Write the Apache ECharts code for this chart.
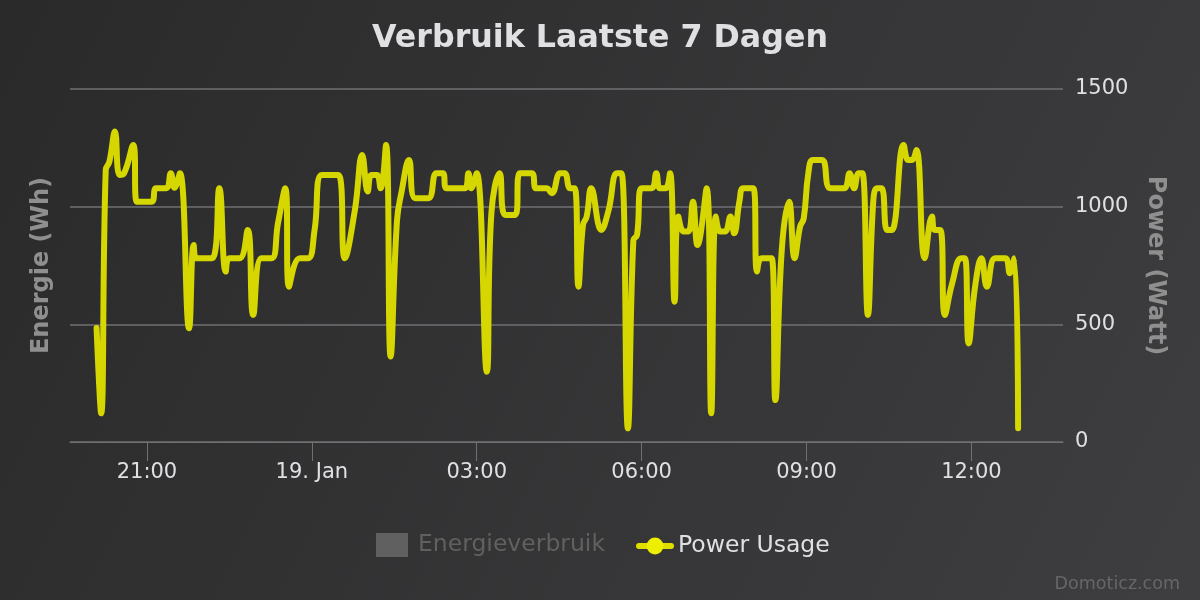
<!DOCTYPE html>
<html>
<head>
<meta charset="utf-8">
<script src="https://cdn.jsdelivr.net/npm/echarts@6/dist/echarts.min.js"></script>
<style>html,body{margin:0;padding:0;}#chart{width:1200px;height:600px;}</style>
</head>
<body>
<div id="chart"></div>
<script>
// Minutes relative to 19 Jan 00:00 (negative = 18 Jan evening)
const minutesFromMidnight = [
  -235,-230,-225,-221,-215,-210,-205,-195,-191,-175,-170,-159,-154,-150,-144,-134,-129,-126,-109,-101,
  -94,-90,-79,-70,-64,-55,-44,-37,-29,-25,-13,-4,3,11,29,36,47,55,61,65,
  71,75,81,86,93,98,106,113,127,136,143,147,167,171,174,180,191,196,205,211,
  222,227,240,245,256,262,271,276,282,287,291,296,300,305,316,324,333,338,345,351,
  355,360,371,376,380,386,391,396,400,406,411,416,421,431,436,441,446,451,457,461,
  467,471,482,486,491,502,506,513,521,527,533,537,542,547,557,566,581,587,592,597,
  601,607,613,617,622,628,633,646,651,655,660,669,677,680,686,691,699,709,713,717,
  724,731,737,746,757,762,767,771
];
const powerWatt = [
  484,122,1156,1191,1319,1135,1142,1262,1021,1021,1078,1078,1142,1080,1142,483,837,781,781,1078,
  724,781,781,901,540,781,781,929,1078,660,781,781,901,1135,1135,781,986,1220,1064,1135,
  1135,1078,1262,363,943,1064,1198,1036,1036,1142,1142,1078,1078,1142,1078,1142,299,972,1142,965,
  965,1142,1142,1078,1078,1057,1142,1142,1078,1078,660,922,958,1078,901,986,1142,1142,58,858,
  880,1078,1078,1142,1078,1078,1142,596,958,894,894,1021,837,1078,122,958,894,894,958,887,
  1028,1078,1078,724,781,781,178,816,1021,781,915,951,1142,1198,1198,1078,1078,1142,1078,1142,
  1142,540,1028,1078,1078,901,901,1262,1198,1198,1241,781,958,901,901,540,674,781,781,419,
  660,781,660,781,781,717,781,58
];
const energyWh = []; // hidden series, no values shown
const tickMinutes = [-180, 0, 180, 360, 540, 720];
const tickLabels = ['21:00', '19. Jan', '03:00', '06:00', '09:00', '12:00'];
const powerTicks = [0, 500, 1000, 1500];

const powerData = minutesFromMidnight.map((m, i) => [m, powerWatt[i]]);
const labelMap = {};
tickMinutes.forEach((m, i) => { labelMap[m] = tickLabels[i]; });

const chart = echarts.init(document.getElementById('chart'), null, {renderer: 'canvas'});
const font = 'DejaVu Sans';
chart.setOption({
  animation: false,
  backgroundColor: {
    type: 'linear', x: 0, y: 0, x2: 1, y2: 1,
    colorStops: [{offset: 0, color: '#2a2a2b'}, {offset: 1, color: '#3e3e40'}]
  },
  textStyle: {fontFamily: font},
  title: {
    text: 'Verbruik Laatste 7 Dagen',
    left: 'center', top: 18,
    textStyle: {color: '#e0e0e3', fontSize: 31.7, fontWeight: 'bold', fontFamily: font}
  },
  graphic: [{
    type: 'text', right: 20, bottom: 7,
    style: {text: 'Domoticz.com', fill: '#666666', fontSize: 17.5, fontFamily: font}
  }],
  legend: [{
    data: ['Energieverbruik'],
    left: 376, top: 533, padding: 0,
    icon: 'rect', itemWidth: 32, itemHeight: 24,
    selected: {'Energieverbruik': false},
    inactiveColor: '#606060',
    textStyle: {fontSize: 23.5, color: '#e0e0e3', fontFamily: font, padding: [0, 0, 0, 5]}
  }, {
    data: [{name: 'Power Usage', itemStyle: {color: '#eeee00'}, lineStyle: {color: '#e0e000', width: 6}}],
    left: 636, top: 534, padding: 0,
    itemWidth: 32, itemHeight: 21,
    textStyle: {fontSize: 23.5, color: '#e0e0e3', fontFamily: font, padding: [0, 0, 0, 2]}
  }],
  grid: {left: 70, right: 137, top: 89, bottom: 158, containLabel: false},
  xAxis: {
    type: 'value',
    min: -264, max: 820,
    axisLine: {show: true, lineStyle: {color: '#707073', width: 1}},
    axisTick: {show: true, customValues: tickMinutes, length: 19, lineStyle: {color: '#707073'}},
    axisLabel: {
      customValues: tickMinutes,
      formatter: v => labelMap[v] !== undefined ? labelMap[v] : '',
      color: '#e0e0e3', fontSize: 21, margin: 20, fontFamily: font
    },
    splitLine: {show: false}
  },
  yAxis: [{
    type: 'value', position: 'left',
    min: 0, max: 1500, interval: 500,
    name: 'Energie (Wh)', nameLocation: 'middle', nameRotate: 90, nameGap: 16,
    nameTextStyle: {color: '#8f8f8f', fontSize: 24, fontWeight: 'bold', fontFamily: font},
    axisLine: {show: false}, axisTick: {show: false}, axisLabel: {show: false},
    splitLine: {show: false}
  }, {
    type: 'value', position: 'right',
    min: 0, max: 1500, interval: 500,
    name: 'Power (Watt)', nameLocation: 'middle', nameRotate: -90, nameGap: 80,
    nameTextStyle: {color: '#8f8f8f', fontSize: 24, fontWeight: 'bold', fontFamily: font},
    axisLine: {show: false}, axisTick: {show: false},
    axisLabel: {color: '#e0e0e3', fontSize: 21, margin: 12, align: 'left', fontFamily: font,
      formatter: v => powerTicks.includes(v) ? String(v) : ''},
    splitLine: {show: true, lineStyle: {color: '#707073', width: 1.5}}
  }],
  series: [{
    name: 'Energieverbruik', type: 'bar', yAxisIndex: 0,
    itemStyle: {color: '#606060'},
    data: energyWh
  }, {
    name: 'Power Usage', type: 'line', yAxisIndex: 1,
    data: powerData,
    smooth: 0.45,
    symbol: 'circle', symbolSize: 12, showSymbol: false,
    lineStyle: {color: '#d6d600', width: 6, cap: 'round', join: 'round'},
    itemStyle: {color: '#eeee00'}
  }]
});
</script>
</body>
</html>
